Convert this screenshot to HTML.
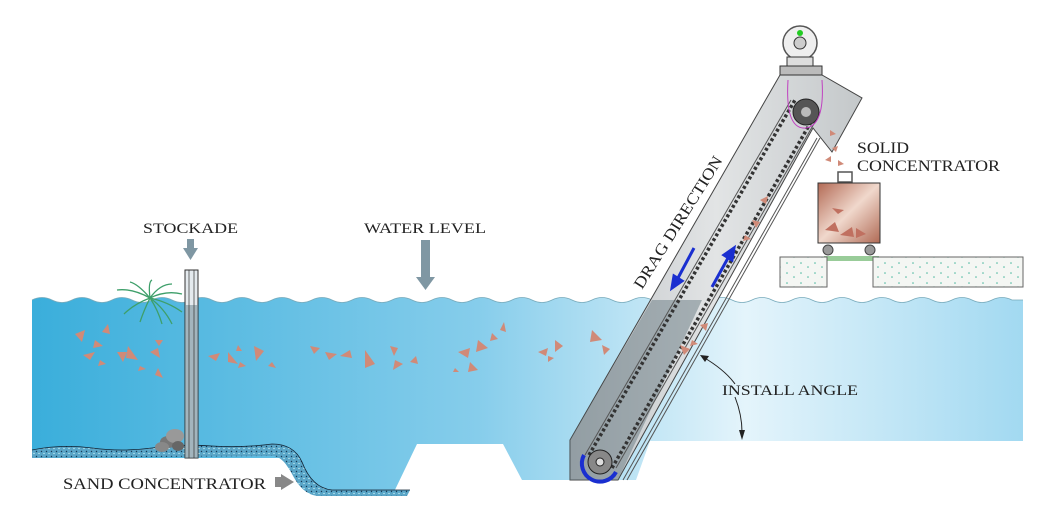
<!DOCTYPE html>
<html><head><meta charset="utf-8"><style>
html,body{margin:0;padding:0;background:#fff;width:1059px;height:508px;overflow:hidden}
svg{display:block}
text{font-family:"Liberation Serif",serif;fill:#222}
</style></head><body>
<svg width="1059" height="508" viewBox="0 0 1059 508" xmlns="http://www.w3.org/2000/svg">
<defs>
<linearGradient id="w" x1="0" y1="0" x2="1" y2="0">
<stop offset="0" stop-color="#3aaedb"/><stop offset="0.45" stop-color="#86cdeb"/><stop offset="0.72" stop-color="#e4f4fb"/><stop offset="1" stop-color="#a2d9f1"/>
</linearGradient>
<linearGradient id="box" x1="0" y1="0" x2="1" y2="1">
<stop offset="0" stop-color="#b36a55"/><stop offset="0.5" stop-color="#f0d8cc"/><stop offset="1" stop-color="#b06a55"/>
</linearGradient>
<linearGradient id="conv" x1="0" y1="0" x2="1" y2="0">
<stop offset="0" stop-color="#bfc3c6"/><stop offset="0.5" stop-color="#e2e4e5"/><stop offset="1" stop-color="#c4c8ca"/>
</linearGradient>
<pattern id="sand" width="5" height="5" patternUnits="userSpaceOnUse"><rect width="5" height="5" fill="#5aa6c8"/><circle cx="1.5" cy="1.5" r="0.7" fill="#173a55"/><circle cx="4" cy="3.5" r="0.6" fill="#dff"/></pattern>
<pattern id="conc" width="14" height="10" patternUnits="userSpaceOnUse"><rect width="14" height="10" fill="#f4f6f3"/><circle cx="3" cy="3" r="0.8" fill="#4cb8a0"/><circle cx="10" cy="7" r="0.8" fill="#4cb8a0"/></pattern>
</defs>
<!-- water -->
<path d="M32,300 q10,-5 20,0 t20,0 t20,0 t20,0 t20,0 t20,0 t20,0 t20,0 t20,0 t20,0 t20,0 t20,0 t20,0 t20,0 t20,0 t20,0 t20,0 t20,0 t20,0 t20,0 t20,0 t20,0 t20,0 t20,0 t20,0 t20,0 t20,0 t20,0 t20,0 t20,0 t20,0 t20,0 t20,0 t20,0 t20,0 t20,0 t20,0 t20,0 t20,0 t20,0 t20,0 t20,0 t20,0 t20,0 t20,0 t20,0 t20,0 t20,0 t20,0 L1023,300 L1023,441 L650,441 L636,480 L522,480 L503,444 L417,444 L393,494 L311,494 Q295,480 282,458 L32,458 Z" fill="url(#w)"/>
<path d="M32,300 q10,-5 20,0 t20,0 t20,0 t20,0 t20,0 t20,0 t20,0 t20,0 t20,0 t20,0 t20,0 t20,0 t20,0 t20,0 t20,0 t20,0 t20,0 t20,0 t20,0 t20,0 t20,0 t20,0 t20,0 t20,0 t20,0 t20,0 t20,0 t20,0 t20,0 t20,0 t20,0 t20,0 t20,0 t20,0 t20,0 t20,0 t20,0 t20,0 t20,0 t20,0 t20,0 t20,0 t20,0 t20,0 t20,0 t20,0 t20,0 t20,0 t20,0 L1023,300" fill="none" stroke="#7ab" stroke-width="0.8"/>
<!-- sand -->
<path d="M32,450 q30,-6 60,-2 t60,0 t60,-2 t60,-2 q22,0 30,18 q10,26 30,28 l78,0 l-3,6 l-90,0 q-15,-2 -25,-22 q-8,-16 -18,-18 L32,458 Z" fill="url(#sand)"/>
<path d="M32,450 q30,-6 60,-2 t60,0 t60,-2 t60,-2 q22,0 30,18 q10,26 30,28 l78,0" fill="none" stroke="#123" stroke-width="0.8"/>
<!-- stockade -->
<rect x="185" y="270" width="13" height="188" fill="#e4eaee" stroke="#333" stroke-width="1"/>
<rect x="185" y="305" width="13" height="153" fill="#6e8896" opacity="0.55"/>
<line x1="189" y1="270" x2="189" y2="458" stroke="#333" stroke-width="0.7"/><line x1="194" y1="270" x2="194" y2="458" stroke="#333" stroke-width="0.7"/>
<!-- rocks -->
<ellipse cx="168" cy="442" rx="8" ry="6" fill="#777"/><ellipse cx="175" cy="436" rx="9" ry="7" fill="#999"/><ellipse cx="162" cy="447" rx="7" ry="5" fill="#888"/><ellipse cx="178" cy="446" rx="6" ry="5" fill="#666"/>
<!-- fern -->
<g stroke="#3e9f6a" stroke-width="1.3" fill="none">
<path d="M150,298 q-18,-10 -33,-8"/><path d="M150,298 q-12,-14 -20,-16"/><path d="M150,298 q-2,-16 2,-18"/><path d="M150,298 q10,-14 22,-14"/><path d="M150,298 q16,-8 32,-4"/><path d="M150,298 q18,4 32,14"/><path d="M150,298 q8,12 12,26"/><path d="M150,298 q-6,12 -10,24"/><path d="M150,298 q-16,6 -26,16"/><path d="M150,298 q14,10 22,26"/>
</g>
<!-- arrows -->
<rect x="187" y="239" width="7" height="9" fill="#7f97a3"/><path d="M183,248 h15 l-7.5,12 z" fill="#7f97a3"/>
<rect x="421" y="240" width="9" height="38" fill="#7f97a3"/><path d="M416,277 h19 l-9.5,13 z" fill="#7f97a3"/>
<rect x="275" y="477" width="6" height="10" fill="#888"/><path d="M281,474 v16 l13,-8 z" fill="#888"/>
<!-- debris -->
<g fill="#d08a78">
<path d="M75,334 l10,-4 l-3,12z"/><path d="M95,340 l8,6 l-10,2z"/><path d="M102,332 l6,-8 l2,10z"/><path d="M83,355 l12,-3 l-5,8z"/><path d="M117,352 l10,0 l-4,10z"/><path d="M128,346 l10,14 l-12,-2z"/><path d="M150,352 l8,-4 l2,10z"/><path d="M140,366 l6,3 l-8,2z"/><path d="M158,368 l5,10 l-8,-3z"/><path d="M100,360 l6,4 l-8,2z"/><path d="M155,340 l8,0 l-4,6z"/>
<path d="M208,356 l12,-3 l-4,8z"/><path d="M228,352 l10,12 l-10,-2z"/><path d="M254,346 l10,5 l-8,10z"/><path d="M240,362 l6,4 l-8,2z"/><path d="M272,362 l4,6 l-8,-2z"/><path d="M238,345 l4,6 l-6,0z"/>
<path d="M310,346 l10,2 l-6,6z"/><path d="M325,352 l12,2 l-8,6z"/><path d="M340,356 l10,-6 l2,8z"/><path d="M365,350 l10,14 l-10,4z"/><path d="M390,346 l8,2 l-4,8z"/><path d="M395,360 l8,4 l-10,6z"/><path d="M410,362 l6,-6 l2,8z"/>
<path d="M458,352 l12,-4 l-2,10z"/><path d="M478,340 l10,8 l-12,4z"/><path d="M470,362 l8,8 l-10,2z"/><path d="M492,333 l6,6 l-8,2z"/><path d="M500,330 l4,-8 l2,10z"/><path d="M455,368 l4,4 l-6,0z"/>
<path d="M538,352 l10,-4 l-2,8z"/><path d="M555,340 l8,6 l-8,6z"/><path d="M548,356 l6,2 l-6,4z"/><path d="M592,330 l10,10 l-12,2z"/><path d="M602,345 l8,4 l-6,6z"/>
</g>
<!-- conveyor -->
<path d="M780,75 L822,75 L862,98 L832,152 L813,128 L618,480 L570,480 L570,440 Z" fill="url(#conv)" stroke="#444" stroke-width="1"/>
<path d="M743,300 L702,300 L618,480 L570,480 L570,440 L652,300 Z" fill="#5d707a" opacity="0.45"/>
<g stroke="#333" stroke-width="3.5" stroke-dasharray="3 2.5" fill="none">
<line x1="589" y1="455" x2="795" y2="100"/><line x1="612" y1="468" x2="815" y2="115"/>
</g>
<g stroke="#555" stroke-width="1" fill="none">
<line x1="585" y1="455" x2="791" y2="100"/><line x1="616" y1="468" x2="819" y2="115"/>
<line x1="627" y1="480" x2="820" y2="138"/><line x1="623" y1="480" x2="817" y2="138"/>
</g>
<circle cx="600" cy="462" r="12" fill="#888" stroke="#222"/><circle cx="600" cy="462" r="4" fill="#ddd" stroke="#222"/>
<path d="M584,455 A18,18 0 0 0 616,472" stroke="#1a2fd0" stroke-width="4" fill="none"/>
<circle cx="806" cy="112" r="13" fill="#555" stroke="#222"/><circle cx="806" cy="112" r="5" fill="#bbb"/>
<path d="M788,80 Q785,130 806,128 Q825,125 822,80" stroke="#c040c0" fill="none" stroke-width="1"/>
<!-- motor -->
<rect x="780" y="66" width="42" height="9" fill="#bbb" stroke="#333"/>
<circle cx="800" cy="43" r="17" fill="#eee" stroke="#555" stroke-width="1.5"/><circle cx="800" cy="43" r="6" fill="#ccc" stroke="#333"/>
<rect x="787" y="57" width="26" height="9" fill="#ddd" stroke="#333"/>
<circle cx="800" cy="33" r="3" fill="#2c2"/>
<!-- blue arrows -->
<g stroke="#1a2fd0" stroke-width="3" fill="#1a2fd0">
<line x1="694" y1="248" x2="678" y2="278"/><path d="M672,288 l2,-12 l8,5z"/>
<line x1="712" y1="287" x2="728" y2="258"/><path d="M734,248 l-2,12 l-8,-5z"/>
</g>
<!-- conveyor debris -->
<g fill="#d08a78"><path d="M760,200 l8,-4 l-2,8z"/><path d="M752,220 l8,2 l-4,6z"/><path d="M745,235 l6,4 l-8,2z"/><path d="M700,325 l8,-2 l-2,8z"/><path d="M692,340 l6,4 l-8,2z"/><path d="M680,345 l10,4 l-6,6z"/><path d="M830,130 l6,4 l-6,2z"/><path d="M825,160 l6,-4 l0,6z"/><path d="M838,160 l6,4 l-6,2z"/><path d="M832,148 l6,-2 l-2,6z"/></g>
<!-- solid concentrator -->
<rect x="838" y="172" width="14" height="10" fill="none" stroke="#555" stroke-width="1.5"/>
<rect x="818" y="183" width="62" height="60" fill="url(#box)" stroke="#333"/>
<g fill="#c07060"><path d="M825,230 l10,-8 l4,10z"/><path d="M840,235 l12,-8 l2,10z"/><path d="M856,228 l10,6 l-10,4z"/><path d="M832,208 l12,2 l-6,4z"/></g>
<circle cx="828" cy="250" r="5" fill="#999" stroke="#444"/><circle cx="870" cy="250" r="5" fill="#999" stroke="#444"/>
<rect x="824" y="256" width="55" height="5" fill="#9c9"/>
<rect x="780" y="257" width="47" height="30" fill="url(#conc)" stroke="#666"/>
<rect x="873" y="257" width="150" height="30" fill="url(#conc)" stroke="#666"/>
<!-- install angle -->
<path d="M703,357 Q725,370 735,384" stroke="#222" fill="none"/><path d="M700,355 l9,1 l-4,6z" fill="#222"/>
<path d="M735,397 Q742,415 742,432" stroke="#222" fill="none"/><path d="M739,430 h6 l-3,10z" fill="#222"/>
<!-- labels -->
<text x="143" y="233" font-size="15" textLength="95" lengthAdjust="spacingAndGlyphs">STOCKADE</text>
<text x="364" y="233" font-size="15" textLength="122" lengthAdjust="spacingAndGlyphs">WATER LEVEL</text>
<text x="63" y="489" font-size="16" textLength="203" lengthAdjust="spacingAndGlyphs">SAND  CONCENTRATOR</text>
<text x="722" y="395" font-size="15" textLength="136" lengthAdjust="spacingAndGlyphs">INSTALL ANGLE</text>
<text x="857" y="153" font-size="16" textLength="52" lengthAdjust="spacingAndGlyphs">SOLID</text>
<text x="857" y="171" font-size="16" textLength="143" lengthAdjust="spacingAndGlyphs">CONCENTRATOR</text>
<text x="0" y="0" font-size="16" textLength="153" lengthAdjust="spacingAndGlyphs" transform="translate(642,290) rotate(-58)">DRAG DIRECTION</text>
</svg>
</body></html>
